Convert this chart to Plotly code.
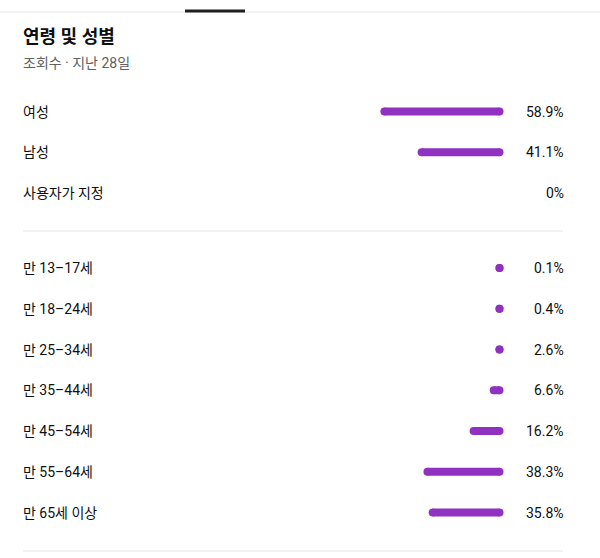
import plotly.graph_objects as go

# ---- data ----
title_text = "연령 및 성별"
subtitle_text = "조회수 · 지난 28일"
gender_labels = ["여성", "남성", "사용자가 지정"]
gender_values = [58.9, 41.1, 0.0]
gender_text = ["58.9%", "41.1%", "0%"]
age_labels = ["만 13–17세", "만 18–24세", "만 25–34세", "만 35–44세",
              "만 45–54세", "만 55–64세", "만 65세 이상"]
age_values = [0.1, 0.4, 2.6, 6.6, 16.2, 38.3, 35.8]
age_text = ["0.1%", "0.4%", "2.6%", "6.6%", "16.2%", "38.3%", "35.8%"]

# ---- layout constants ----
W, H = 600, 558
BAR_RIGHT = 503.5      # px where 0% sits
SCALE = 2.09           # px per percent
THICK = 8              # bar thickness px
CAP = (THICK / 2) / SCALE  # cap radius in data units
ROW_STEP = 40.75
GENDER_Y0 = 111.5
AGE_Y0 = 268.0
LEFT = 23
RIGHT = 563
TXT_LEFT = 20.5        # annotation anchor compensating box padding
TXT_RIGHT = 565.5
PURPLE = "#9031c2"
TEXT = "#0f0f0f"
FONT = "Roboto, 'Noto Sans CJK KR', sans-serif"

labels = gender_labels + age_labels
values = gender_values + age_values
texts = gender_text + age_text
ys = [GENDER_Y0 + ROW_STEP * i for i in range(len(gender_labels))] + \
     [AGE_Y0 + ROW_STEP * i for i in range(len(age_labels))]

bx, by = [], []
for v, y in zip(values, ys):
    if v <= 0:
        continue
    bx += [CAP, max(v, 2 * CAP) - CAP, None]
    by += [y, y, None]

fig = go.Figure()
fig.add_trace(go.Scatter(
    x=bx, y=by, mode="lines+markers",
    line=dict(color=PURPLE, width=THICK),
    marker=dict(color=PURPLE, size=THICK, line=dict(width=0)),
    hoverinfo="skip", showlegend=False,
))

ann = []
ann.append(dict(x=TXT_LEFT / W, y=36, xref="paper", yref="y", text=f"<b>{title_text}</b>",
                showarrow=False, xanchor="left", yanchor="middle",
                font=dict(family=FONT, size=18, color=TEXT)))
ann.append(dict(x=TXT_LEFT / W, y=62.5, xref="paper", yref="y", text=subtitle_text,
                showarrow=False, xanchor="left", yanchor="middle",
                font=dict(family=FONT, size=14, color="#606060")))
for lab, t, y in zip(labels, texts, ys):
    ann.append(dict(x=TXT_LEFT / W, y=y, xref="paper", yref="y", text=lab,
                    showarrow=False, xanchor="left", yanchor="middle",
                    font=dict(family=FONT, size=14, color=TEXT)))
    ann.append(dict(x=TXT_RIGHT / W, y=y, xref="paper", yref="y", text=t,
                    showarrow=False, xanchor="right", yanchor="middle",
                    font=dict(family=FONT, size=14, color=TEXT)))

sep1 = (ys[len(gender_labels) - 1] + ys[len(gender_labels)]) / 2 + 0.5
sep2 = ys[-1] + 38.5
shapes = [
    dict(type="line", xref="paper", yref="y", x0=0, x1=1, y0=12, y1=12,
         line=dict(color="#e5e5e5", width=1)),
    dict(type="line", xref="paper", yref="y", x0=185 / W, x1=245 / W, y0=11, y1=11,
         line=dict(color="#1f1f1f", width=3)),
    dict(type="line", xref="paper", yref="y", x0=LEFT / W, x1=RIGHT / W, y0=sep1, y1=sep1,
         line=dict(color="#e5e5e5", width=1)),
    dict(type="line", xref="paper", yref="y", x0=LEFT / W, x1=RIGHT / W, y0=sep2, y1=sep2,
         line=dict(color="#e5e5e5", width=1)),
]

fig.update_layout(
    width=W, height=H,
    margin=dict(l=0, r=0, t=0, b=0),
    paper_bgcolor="white", plot_bgcolor="white",
    xaxis=dict(range=[BAR_RIGHT / SCALE, (BAR_RIGHT - W) / SCALE], visible=False,
               fixedrange=True),
    yaxis=dict(range=[H, 0], visible=False, fixedrange=True),
    annotations=ann, shapes=shapes,
    font=dict(family=FONT),
)

fig.write_html("out.html", config={"displayModeBar": False},
               post_script="document.body.style.margin='0';document.body.style.overflow='hidden';")
